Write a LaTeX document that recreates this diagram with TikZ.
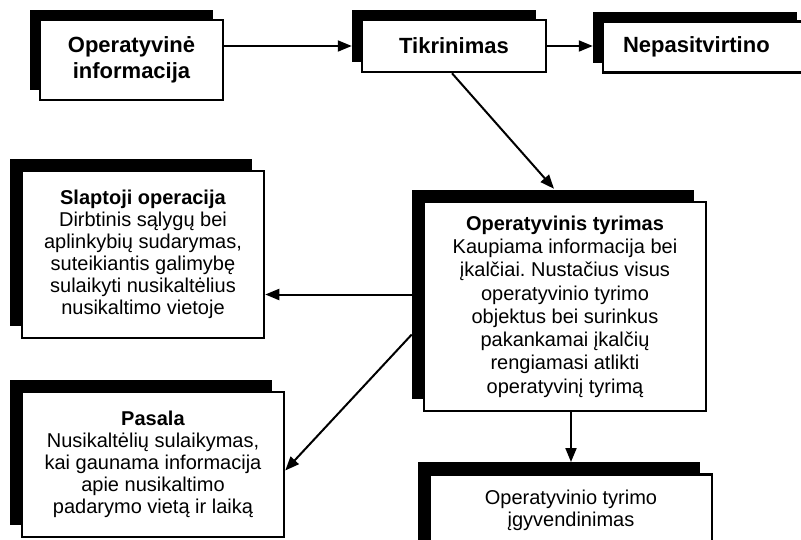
\documentclass[tikz,border=0pt]{standalone}
\usepackage{fontspec}
\setmainfont{Liberation Sans}
\usetikzlibrary{arrows.meta,shadows}
\frenchspacing

\begin{document}
\begin{tikzpicture}[x=1pt, y=-1pt,
    box/.style={draw, line width=2.5pt, fill=white, inner sep=0pt, align=center,
        drop shadow={shadow xshift=-#1, shadow yshift=#1, fill=black, opacity=1}},
    box/.default=12pt,
    big/.style={font=\bfseries\fontsize{22}{26}\selectfont},
    body/.style={font=\fontsize{20}{22}\selectfont},
    arr/.style={line width=2pt, -{Triangle[length=14pt,width=11pt]}}]
    \path[use as bounding box, fill=white] (0,0) rectangle (801,539);

    % top row
    \node[box=10pt, big, minimum width=183pt, minimum height=80pt] (info) at (131.5,60) {Operatyvinė\\informacija};
    \node[box=10pt, big, minimum width=184pt, minimum height=52pt] (tikr) at (454,46) {Tikrinimas};
    \node[box=10pt, big, minimum width=204pt, minimum height=51pt, text width=164pt, align=left, inner xsep=20pt] (nep) at (705,47) {Nepasitvirtino};

    % middle and bottom
    \node[box, body, minimum width=242pt, minimum height=167pt] (slapt) at (143,254.5) {\textbf{Slaptoji operacija}\\Dirbtinis sąlygų bei\\aplinkybių sudarymas,\\suteikiantis galimybę\\sulaikyti nusikaltėlius\\nusikaltimo vietoje};
    \node[box, font=\fontsize{20}{23.3}\selectfont, minimum width=282pt, minimum height=209pt] (optyr) at (565,306.5) {\textbf{Operatyvinis tyrimas}\\Kaupiama informacija bei\\įkalčiai. Nustačius visus\\operatyvinio tyrimo\\objektus bei surinkus\\pakankamai įkalčių\\rengiamasi atlikti\\operatyvinį tyrimą};
    \node[box, body, minimum width=262pt, minimum height=145pt] (pasala) at (153,464.5) {\textbf{Pasala}\\Nusikaltėlių sulaikymas,\\kai gaunama informacija\\apie nusikaltimo\\padarymo vietą ir laiką};
    \node[box, body, minimum width=282pt, inner ysep=16pt, text depth=70pt, anchor=north] (igyv) at (571,473) {Operatyvinio tyrimo\\įgyvendinimas};

    % arrows
    \coordinate (tyrL) at ([shift={(-11pt,12pt)}]optyr.west);
    \draw[arr] (info.east |- tikr.west) -- ([xshift=-9pt]tikr.west);
    \draw[arr] (tikr.east) -- ([xshift=-9pt]nep.west |- tikr.east);
    \draw[arr] ([xshift=-2pt]tikr.south) -- ([shift={(-11pt,12pt)}]optyr.north);
    \draw[arr] (tyrL) -- (slapt.east |- tyrL);
    \draw[arr] ([shift={(-11pt,-28pt)}]optyr.west) -- ([yshift=-6pt]pasala.east);
    \draw[arr] (optyr.south -| igyv.north) -- ([yshift=11pt]igyv.north);
\end{tikzpicture}
\end{document}
